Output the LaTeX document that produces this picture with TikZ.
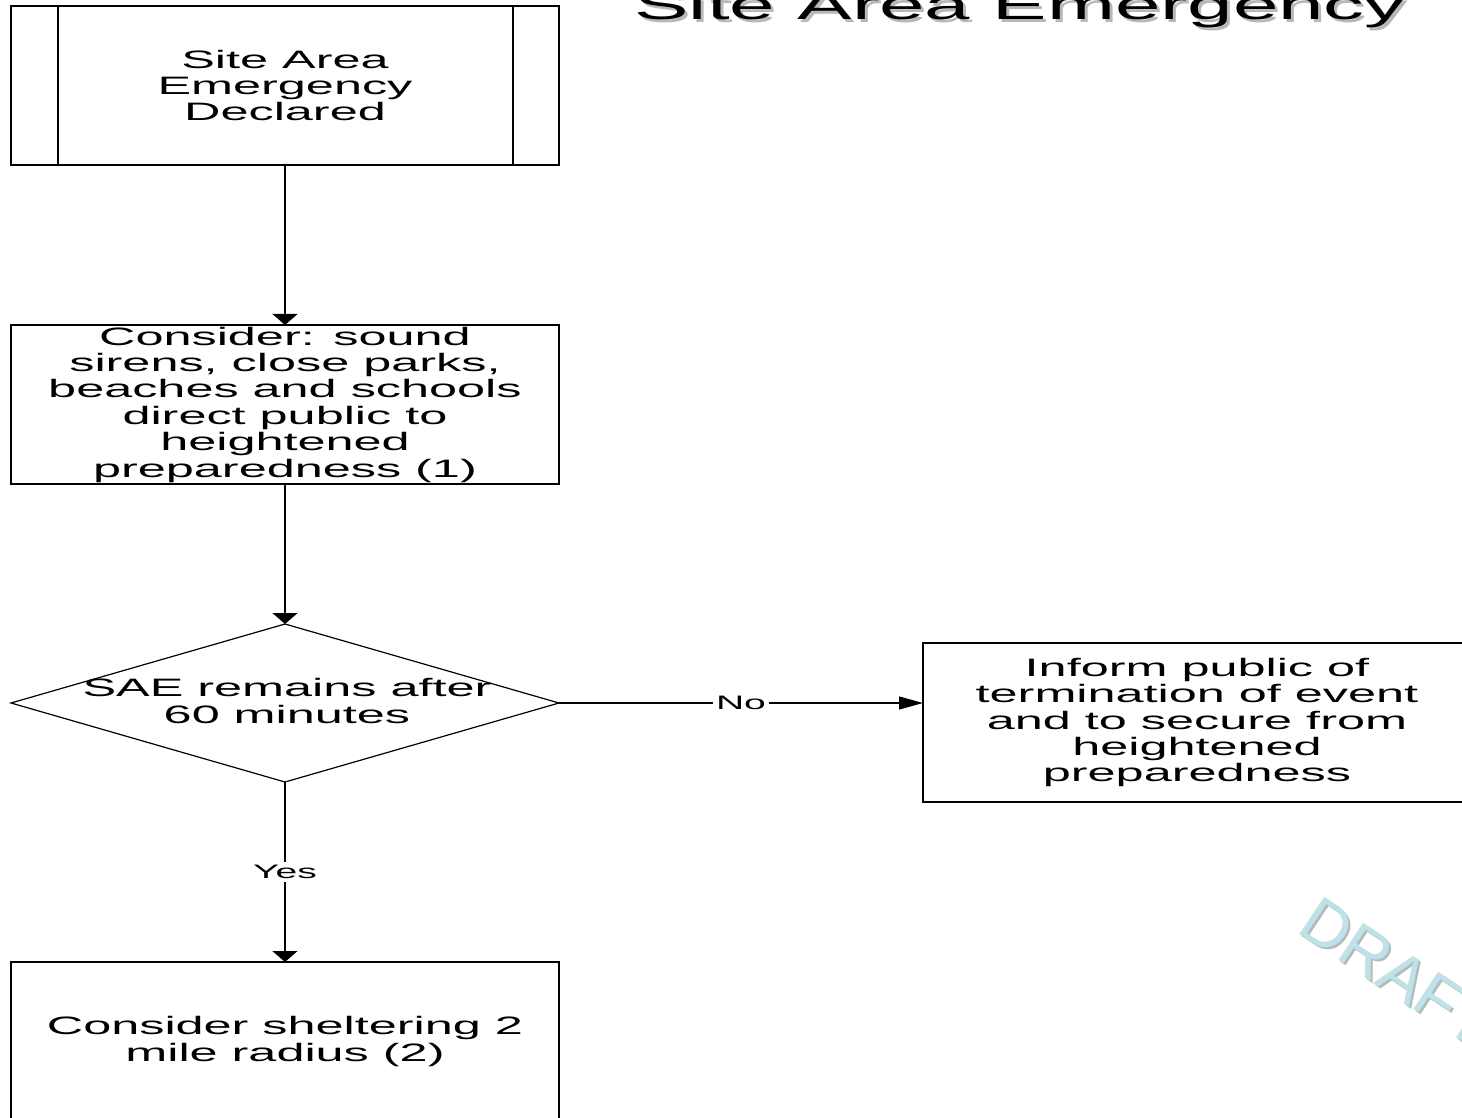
\documentclass[tikz,border=0pt]{standalone}
\usepackage{fontspec}
\setmainfont{Liberation Sans}
\newfontfamily\wide[FakeStretch=2.0]{Liberation Sans}
\usetikzlibrary{arrows.meta}
\definecolor{draftblue}{HTML}{BDE3E8}
\definecolor{shadowgrey}{HTML}{B8B8B8}
\tikzset{
  box/.style={draw, line width=0.75pt, minimum width=274pt, minimum height=79.5pt,
    inner sep=0pt, outer sep=0pt, align=center,
    font=\wide\fontsize{12.6}{13.2}\selectfont},
  txt/.style={inner sep=0pt, align=center, font=\wide\fontsize{12.6}{13.2}\selectfont},
  lbl/.style={fill=white, inner sep=1.5pt, font=\wide\fontsize{9.75}{9.75}\selectfont},
  conn/.style={line width=0.6pt},
  darr/.style={conn, -{Triangle[width=12.5pt,length=5.5pt]}},
  rarr/.style={conn, -{Triangle[width=6.5pt,length=12pt]}},
  titlef/.style={inner sep=0pt, anchor=base, font=\wide\fontsize{20.4}{20.4}\selectfont},
  draftf/.style={inner sep=0pt, anchor=base west, rotate=-33.5, font=\fontsize{32.5}{32.5}\selectfont},
}
\begin{document}
\begin{tikzpicture}[x=0.5pt, y=-0.5pt]
\useasboundingbox (0,0) rectangle (1462,1118);
\clip (0,0) rectangle (1462,1118);
\fill[white] (0,0) rectangle (1462,1118);

% title (cut off at the top)
\node[titlef, text=shadowgrey] (titleshadow) at (1023,23) {Site Area Emergency};
\node[titlef] (title) at (1020,20) {Site Area Emergency};

% watermark
\node[draftf, text=shadowgrey] (draftshadow) at (1297,933) {DRAFT};
\node[draftf, text=draftblue] (draft) at (1295,931) {DRAFT};

% boxes
\node[box] (b1) at (285,85.5) {Site Area\\Emergency\\Declared};
\draw[line width=0.75pt] ([xshift=23.5pt]b1.north west) -- ([xshift=23.5pt]b1.south west);
\draw[line width=0.75pt] ([xshift=-23pt]b1.north east) -- ([xshift=-23pt]b1.south east);

\node[box] (b2) at (285,404.5) {Consider: sound\\sirens, close parks,\\beaches and schools\\direct public to\\heightened\\preparedness (1)};

% decision
\coordinate (dtop) at (285,624);
\coordinate (dright) at (559,703);
\coordinate (dbot) at (285,782);
\coordinate (dleft) at (11,703);
\draw[line width=0.6pt] (dtop) -- (dright) -- (dbot) -- (dleft) -- cycle;
\node[txt] (dec) at (287,701) {SAE remains after\\60 minutes};

\node[box] (b3) at (1197,722.5) {Inform public of\\termination of event\\and to secure from\\heightened\\preparedness};

\node[box] (b4) at (285,1041.5) {Consider sheltering 2\\mile radius (2)};

% connectors
\draw[darr] (b1.south) -- (b2.north);
\draw[darr] (b2.south) -- (dtop);
\draw[rarr] (dright) -- node[lbl] (no) {No} (dright -| b3.west);
\draw[darr] (dbot) -- node[lbl] (yes) {Yes} (b4.north);
\end{tikzpicture}
\end{document}
